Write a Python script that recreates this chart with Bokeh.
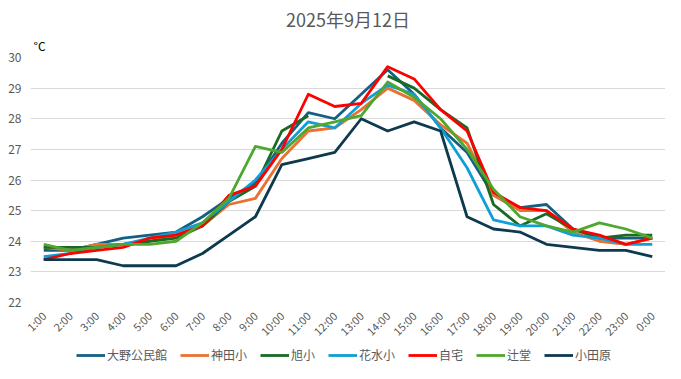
import math
from bokeh.plotting import figure
from bokeh.layouts import column
from bokeh.models import Legend, LegendItem, Title, FixedTicker
from bokeh.embed import file_html
from bokeh.resources import INLINE

NaN = float("nan")

hours = ["1:00", "2:00", "3:00", "4:00", "5:00", "6:00", "7:00", "8:00", "9:00",
         "10:00", "11:00", "12:00", "13:00", "14:00", "15:00", "16:00", "17:00",
         "18:00", "19:00", "20:00", "21:00", "22:00", "23:00", "0:00"]

ono = [23.7, 23.7, 23.9, 24.1, 24.2, 24.3, 24.8, 25.4, 25.9, 27.2, 28.2, 28.0,
       28.8, 29.6, 28.8, 27.7, 26.9, 25.5, 25.1, 25.2, 24.4, 24.1, 24.1, 24.1]
kanda = [23.8, 23.7, 23.9, 23.9, 24.0, 24.2, 24.5, 25.2, 25.4, 26.7, 27.6, 27.7,
         28.3, 29.0, 28.6, 27.8, 27.2, 25.5, 25.0, 25.0, 24.3, 24.0, 23.9, 24.1]
asahi = [23.8, 23.8, 23.8, 23.9, 24.0, 24.1, 24.5, 25.3, 25.8, 27.6, 28.1, NaN,
         NaN, 29.4, 29.0, 28.3, 27.7, 25.2, 24.5, 24.9, 24.4, 24.1, 24.2, 24.2]
hanamizu = [23.5, 23.6, 23.8, 23.9, 24.1, 24.3, 24.6, 25.3, 26.0, 27.0, 27.9, 27.7,
            28.5, 29.1, 28.8, 27.7, 26.4, 24.7, 24.5, 24.5, 24.2, 24.1, 23.9, 23.9]
jitaku = [23.4, 23.6, 23.7, 23.8, 24.1, 24.2, 24.5, 25.5, 25.8, 27.0, 28.8, 28.4,
          28.5, 29.7, 29.3, 28.3, 27.6, 25.6, 25.1, 25.0, 24.4, 24.2, 23.9, 24.1]
tsujido = [23.9, 23.7, 23.8, 23.9, 23.9, 24.0, 24.6, 25.4, 27.1, 26.9, 27.7, 27.9,
           28.1, 29.2, 28.7, 28.0, 27.0, 25.7, 24.8, 24.5, 24.3, 24.6, 24.4, 24.1]
odawara = [23.4, 23.4, 23.4, 23.2, 23.2, 23.2, 23.6, 24.2, 24.8, 26.5, 26.7, 26.9,
           28.0, 27.6, 27.9, 27.6, 24.8, 24.4, 24.3, 23.9, 23.8, 23.7, 23.7, 23.5]

names = ["大野公民館", "神田小", "旭小", "花水小", "自宅", "辻堂", "小田原"]
series = [ono, kanda, asahi, hanamizu, jitaku, tsujido, odawara]
colors = ["#156082", "#E97132", "#196B24", "#0F9ED5", "#FF0000", "#4EA72E", "#0E3A4F"]

yticks = [22, 23, 24, 25, 26, 27, 28, 29, 30]
title_text = "2025年9月12日"
unit_text = "°C"

FONT = "Noto Sans CJK JP"
GRAY = "#595959"

xs = list(range(len(hours)))

# ---- main chart ----
chart = figure(width=665, height=347, output_backend="svg", toolbar_location=None,
               x_range=(-0.5, len(hours) - 0.5), y_range=(yticks[0], yticks[-1]),
               min_border_left=30, min_border_right=0, min_border_top=57,
               min_border_bottom=45)
chart.outline_line_color = None
chart.background_fill_color = "white"
chart.border_fill_color = "white"

chart.xgrid.grid_line_color = None
chart.ygrid.grid_line_color = "#D9D9D9"
chart.ygrid.grid_line_width = 1
chart.yaxis.ticker = FixedTicker(ticks=yticks)
chart.xaxis.ticker = FixedTicker(ticks=xs)
chart.xaxis.major_label_overrides = {i: h for i, h in enumerate(hours)}
chart.xaxis.major_label_orientation = math.pi / 4

for ax in (chart.xaxis, chart.yaxis):
    ax.axis_line_color = None
    ax.major_tick_line_color = None
    ax.minor_tick_line_color = None
    ax.major_tick_out = 0
    ax.major_tick_in = 0
    ax.minor_tick_out = 0
    ax.minor_tick_in = 0
    ax.major_label_text_color = GRAY
    ax.major_label_text_font = FONT
chart.yaxis.major_label_text_font_size = "12px"
chart.xaxis.major_label_text_font_size = "11px"
chart.yaxis.major_label_standoff = 9
chart.xaxis.major_label_standoff = 11

for name, ys, c in zip(names, series, colors):
    chart.line(xs, ys, line_color=c, line_width=2.8, line_join="round")

unit = Title(text=unit_text, align="left", offset=3, standoff=7,
             text_font=FONT, text_font_size="12px", text_color="black",
             text_font_style="normal")
chart.add_layout(unit, "above")
main = Title(text=title_text, align="center", offset=-8, standoff=0,
             text_font=FONT, text_font_size="18px", text_color=GRAY,
             text_font_style="normal")
chart.add_layout(main, "above")

# ---- legend strip (its lines lie outside its visible range) ----
leg = figure(width=665, height=16, output_backend="svg", toolbar_location=None,
             x_range=(0, 1), y_range=(0, 1), x_axis_location=None,
             y_axis_location=None, min_border=0, min_border_left=0,
             min_border_right=0, min_border_top=0, min_border_bottom=0)
leg.outline_line_color = None
leg.grid.visible = False
leg.border_fill_color = "white"
leg.background_fill_color = "white"
items = []
for name, ys, c in zip(names, series, colors):
    r = leg.line(xs, ys, line_color=c, line_width=2.8)
    items.append(LegendItem(label=name, renderers=[r]))
legend = Legend(items=items, orientation="horizontal", location=(46, 0),
                glyph_width=29, glyph_height=12, label_standoff=2, spacing=13,
                label_text_font=FONT, label_text_font_size="12px",
                label_text_color=GRAY, border_line_color=None,
                background_fill_alpha=0, padding=0, margin=0)
leg.add_layout(legend, "center")

p = column(chart, leg, spacing=0)
open("out.html", "w").write(file_html(p, INLINE))
